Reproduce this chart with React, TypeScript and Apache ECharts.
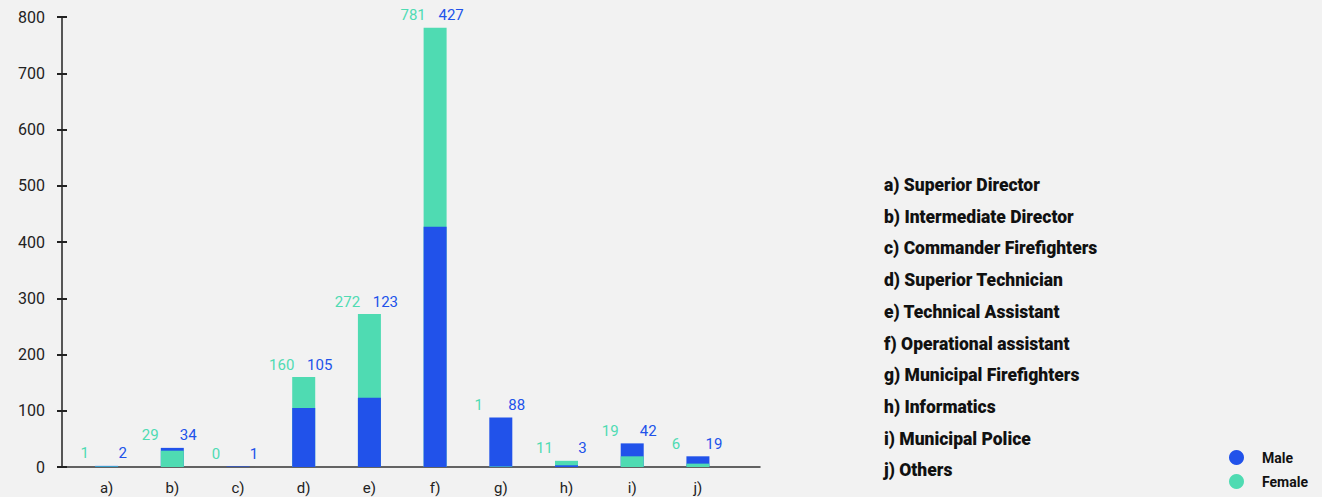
import React, { useEffect, useRef } from "react";
import * as echarts from "echarts";

const categories = ["a)", "b)", "c)", "d)", "e)", "f)", "g)", "h)", "i)", "j)"];
const descriptions = [
  "a) Superior Director",
  "b) Intermediate Director",
  "c) Commander Firefighters",
  "d) Superior Technician",
  "e) Technical Assistant",
  "f) Operational assistant",
  "g) Municipal Firefighters",
  "h) Informatics",
  "i) Municipal Police",
  "j) Others",
];
const female = [1, 29, 0, 160, 272, 781, 1, 11, 19, 6];
const male = [2, 34, 1, 105, 123, 427, 88, 3, 42, 19];
const yMax = 800;
const yStep = 100;

const BLUE = "#2152ea";
const TEAL = "#4fdbb2";
const FONT = "Roboto, 'Open Sans', sans-serif";

export default function App() {
  const ref = useRef<HTMLDivElement>(null);
  useEffect(() => {
    document.body.style.margin = "0";
    document.body.style.background = "#f2f2f2";
    const chart = echarts.init(ref.current!, null, { renderer: "svg" });

    const backFemale = female.flatMap((f, i) => (f > male[i] ? [[i, f]] : []));
    const backMale = male.flatMap((m, i) => (m >= female[i] ? [[i, m]] : []));
    const frontFemale = female.flatMap((f, i) => (f <= male[i] ? [[i, f]] : []));
    const frontMale = male.flatMap((m, i) => (m < female[i] ? [[i, m]] : []));

    const label = {
      show: true,
      position: "top",
      distance: 5,
      offset: [-3, 0],
      formatter: (p: any) => {
        const i = Math.round(p.value[0]);
        return `{f|${female[i]}}{g|}{m|${male[i]}}`;
      },
      rich: {
        f: { color: TEAL, width: 30, align: "center", fontSize: 15, fontFamily: FONT },
        g: { width: 8 },
        m: { color: BLUE, width: 30, align: "center", fontSize: 15, fontFamily: FONT },
      },
    };

    const base = { type: "bar", barWidth: 23, barGap: "-100%" };

    chart.setOption({
      animation: false,
      backgroundColor: "#f2f2f2",
      grid: { left: 62, right: 562, top: 17, bottom: 30 },
      xAxis: {
        type: "value",
        min: -0.679,
        max: 9.945,
        minInterval: 1,
        maxInterval: 1,
        splitLine: { show: false },
        axisTick: { show: false },
        axisLine: { show: true, onZero: false, lineStyle: { color: "#333", width: 1.5 } },
        axisLabel: {
          color: "#222",
          fontSize: 15,
          fontFamily: FONT,
          margin: 13,
          showMinLabel: false,
          showMaxLabel: false,
          formatter: (v: number) => {
            const r = Math.round(v);
            return Math.abs(v - r) < 1e-6 && r >= 0 && r < categories.length ? categories[r] : "";
          },
        },
      },
      yAxis: [
        {
          type: "value",
          min: 0,
          max: yMax,
          interval: yStep,
          splitLine: { show: false },
          axisLine: { show: true, onZero: false, lineStyle: { color: "#222", width: 1.5 } },
          axisTick: { show: true, length: 5, lineStyle: { color: "#222", width: 2 } },
          axisLabel: { color: "#222", fontSize: 16, fontFamily: FONT, margin: 17 },
        },
        {
          type: "value",
          position: "left",
          min: 0,
          max: yMax,
          interval: yStep,
          splitLine: { show: false },
          axisLine: { show: false, onZero: false },
          axisTick: { show: true, inside: true, length: 5, lineStyle: { color: "#222", width: 2 } },
          axisLabel: { show: false },
        },
      ],
      legend: {
        orient: "vertical",
        left: 1224,
        top: 445,
        height: 60,
        data: ["Male", "Female"],
        icon: "circle",
        itemWidth: 25,
        itemHeight: 15,
        itemGap: 9,
        textStyle: { fontSize: 14, fontWeight: "bold", color: "#111", fontFamily: FONT, padding: [0, 0, 0, 8] },
      },
      graphic: [
        {
          type: "group",
          left: 884,
          top: 176,
          children: descriptions.map((d, i) => ({
            type: "text",
            x: 0,
            y: i * 31.7,
            style: {
              text: d,
              fill: "#111",
              font: `900 17.5px ${FONT}`,
              textVerticalAlign: "middle",
            },
          })),
        },
      ],
      series: [
        { ...base, name: "Female", data: backFemale, itemStyle: { color: TEAL }, label },
        { ...base, name: "Male", data: backMale, itemStyle: { color: BLUE }, label },
        { ...base, name: "Female", data: frontFemale, itemStyle: { color: TEAL } },
        { ...base, name: "Male", data: frontMale, itemStyle: { color: BLUE } },
      ],
    });
    return () => chart.dispose();
  }, []);
  return <div ref={ref} style={{ width: 1322, height: 497 }} />;
}
